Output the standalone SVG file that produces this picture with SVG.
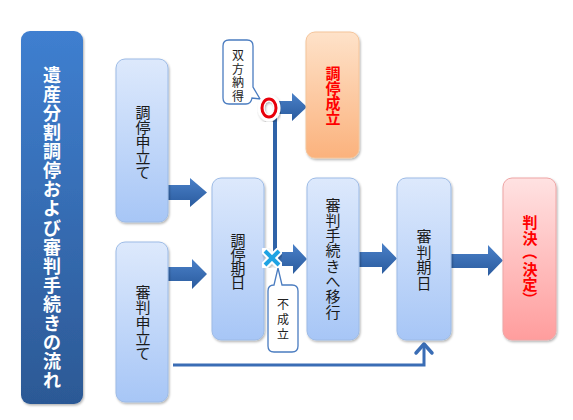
<svg xmlns="http://www.w3.org/2000/svg" width="573" height="420" viewBox="0 0 573 420">
<style>
text{font-family:"Noto Sans CJK JP","Noto Sans",sans-serif;text-anchor:middle;dominant-baseline:central;}
.box{stroke-width:1;}
.blue{fill:url(#gBlue);stroke:#9dbbe6;}
.lbl{font-size:15px;fill:#1a1a1a;}
.red{font-size:15px;font-weight:bold;fill:#ff0000;}
.call{fill:#fff;stroke:#4a7cc0;stroke-width:1.3;}
.ct{font-size:12px;fill:#222;}
.arr{fill:url(#gArr);}
</style>
<defs>
<linearGradient id="gBlue" x1="0" y1="0" x2="0" y2="1"><stop offset="0" stop-color="#dde9fc"/><stop offset="1" stop-color="#a7c6f6"/></linearGradient>
<linearGradient id="gOrange" x1="0" y1="0" x2="0" y2="1"><stop offset="0" stop-color="#fee2c9"/><stop offset="1" stop-color="#fbb27d"/></linearGradient>
<linearGradient id="gPink" x1="0" y1="0" x2="0" y2="1"><stop offset="0" stop-color="#ffe2e2"/><stop offset="1" stop-color="#ff9d9d"/></linearGradient>
<linearGradient id="gTitle" x1="0" y1="0" x2="0" y2="1"><stop offset="0" stop-color="#3f7fd0"/><stop offset="1" stop-color="#2c5995"/></linearGradient>
<linearGradient id="gArr" x1="0" y1="0" x2="0" y2="1"><stop offset="0" stop-color="#4a80c8"/><stop offset="1" stop-color="#2a5b9e"/></linearGradient>
<filter id="sh" x="-20%" y="-20%" width="140%" height="140%"><feDropShadow dx="1" dy="1.5" stdDeviation="1.2" flood-color="#000" flood-opacity="0.3"/></filter>
</defs>
<rect width="573" height="420" fill="#fff"/>

<g id="title">
<rect x="21" y="31" width="62" height="373" rx="9" fill="url(#gTitle)" filter="url(#sh)"/>
<text font-size="18" font-weight="bold" fill="#fff"><tspan x="52" y="74">遺</tspan><tspan x="52" y="93.1">産</tspan><tspan x="52" y="112.1">分</tspan><tspan x="52" y="131.2">割</tspan><tspan x="52" y="150.2">調</tspan><tspan x="52" y="169.3">停</tspan><tspan x="52" y="188.4">お</tspan><tspan x="52" y="207.4">よ</tspan><tspan x="52" y="226.5">び</tspan><tspan x="52" y="245.5">審</tspan><tspan x="52" y="264.6">判</tspan><tspan x="52" y="283.7">手</tspan><tspan x="52" y="302.7">続</tspan><tspan x="52" y="321.8">き</tspan><tspan x="52" y="340.8">の</tspan><tspan x="52" y="359.9">流</tspan><tspan x="52" y="379">れ</tspan></text>
</g>

<g id="connectors">
<polygon class="arr" points="168,185 190,185 190,178 207,192.5 190,207 190,200 168,200"/>
<polygon class="arr" points="168,267 192,267 192,259 207,274 192,289 192,281 168,281"/>
<rect x="273" y="110" width="4" height="148" fill="#2f63a8"/>
<polygon class="arr" points="276,101 292,101 292,93 307,107 292,121 292,114 276,114"/>
<polygon class="arr" points="278,252 293,252 293,244 307,259 293,274 293,266 278,266"/>
<polygon class="arr" points="359,252 382,252 382,243 397,258.5 382,274 382,267 359,267"/>
<polygon class="arr" points="451,254 488,254 488,245 503,260.5 488,276 488,268 451,268"/>
<polyline points="173,365 424,365 424,344" fill="none" stroke="#3a6db5" stroke-width="3"/>
<polyline points="416,353 424,344 432,353" fill="none" stroke="#3a6db5" stroke-width="3.5" stroke-linecap="round" stroke-linejoin="round"/>
</g>

<g id="n-chotei-moushitate">
<rect class="box blue" x="116" y="59" width="52" height="163" rx="9" filter="url(#sh)"/>
<text class="lbl"><tspan x="143" y="110.5">調</tspan><tspan x="143" y="125.5">停</tspan><tspan x="143" y="140.5">申</tspan><tspan x="143" y="155.5">立</tspan><tspan x="143" y="170.5">て</tspan></text>
</g>

<g id="n-shinpan-moushitate">
<rect class="box blue" x="116" y="242" width="52" height="160" rx="9" filter="url(#sh)"/>
<text class="lbl"><tspan x="143" y="290.7">審</tspan><tspan x="143" y="306.1">判</tspan><tspan x="143" y="321.5">申</tspan><tspan x="143" y="336.9">立</tspan><tspan x="143" y="352.3">て</tspan></text>
</g>

<g id="n-chotei-kijitsu">
<rect class="box blue" x="212" y="178" width="52" height="162" rx="9" filter="url(#sh)"/>
<text class="lbl" font-size="14"><tspan x="238" y="238.5">調</tspan><tspan x="238" y="252.8">停</tspan><tspan x="238" y="267.1">期</tspan><tspan x="238" y="281.4">日</tspan></text>
</g>

<g id="n-chotei-seiritsu">
<rect class="box" x="306" y="32" width="53" height="126" rx="9" fill="url(#gOrange)" stroke="#f4c49a" filter="url(#sh)"/>
<text class="red"><tspan x="333" y="71.5">調</tspan><tspan x="333" y="86.8">停</tspan><tspan x="333" y="102.1">成</tspan><tspan x="333" y="117.4">立</tspan></text>
</g>

<g id="n-ikou">
<rect class="box blue" x="307" y="178" width="52" height="162" rx="9" filter="url(#sh)"/>
<text class="lbl"><tspan x="333" y="203.5">審</tspan><tspan x="333" y="218.8">判</tspan><tspan x="333" y="234.1">手</tspan><tspan x="333" y="249.4">続</tspan><tspan x="333" y="264.7">き</tspan><tspan x="333" y="280">へ</tspan><tspan x="333" y="295.3">移</tspan><tspan x="333" y="310.6">行</tspan></text>
</g>

<g id="n-shinpan-kijitsu">
<rect class="box blue" x="397" y="178" width="54" height="162" rx="9" filter="url(#sh)"/>
<text class="lbl"><tspan x="424" y="235">審</tspan><tspan x="424" y="250.5">判</tspan><tspan x="424" y="266">期</tspan><tspan x="424" y="281.5">日</tspan></text>
</g>

<g id="n-hanketsu">
<rect class="box" x="503" y="178" width="53" height="162" rx="9" fill="url(#gPink)" stroke="#eea5a5" filter="url(#sh)"/>
<text class="red"><tspan x="530" y="221">判</tspan><tspan x="530" y="237">決</tspan><tspan x="530" y="268">決</tspan><tspan x="530" y="283">定</tspan></text>
<text class="red" transform="translate(530,252) rotate(90)" x="0" y="0">（</text>
<text class="red" transform="translate(530,299) rotate(90)" x="0" y="0">）</text>
</g>

<g id="n-soho">
<path class="call" d="M229,40 H247 Q253,40 253,46 V87 L260,99 L252,98 Q251,104 246,104 H229 Q223,104 223,98 V46 Q223,40 229,40 Z"/>
<text class="ct"><tspan x="238" y="54">双</tspan><tspan x="238" y="67.7">方</tspan><tspan x="238" y="81.3">納</tspan><tspan x="238" y="95">得</tspan></text>
</g>

<g id="n-fuseiritsu">
<path class="call" d="M274,285 L278,268 L282,285 H292 Q298,285 298,291 V346 Q298,352 292,352 H274 Q268,352 268,346 V291 Q268,285 274,285 Z"/>
<text class="ct"><tspan x="283" y="303">不</tspan><tspan x="283" y="318">成</tspan><tspan x="283" y="333">立</tspan></text>
</g>

<g id="mark-o">
<ellipse cx="269" cy="108" rx="8" ry="10" fill="none" stroke="#fff" stroke-width="7" filter="url(#sh)"/>
<ellipse cx="269" cy="108" rx="7" ry="9" fill="none" stroke="#e8000b" stroke-width="3"/>
</g>

<g id="mark-x">
<path d="M265,251 L279,265 M279,251 L265,265" stroke="#fff" stroke-width="8" stroke-linecap="round" filter="url(#sh)"/>
<path d="M265,251 L279,265 M279,251 L265,265" stroke="#1fa3e3" stroke-width="4"/>
</g>
</svg>
